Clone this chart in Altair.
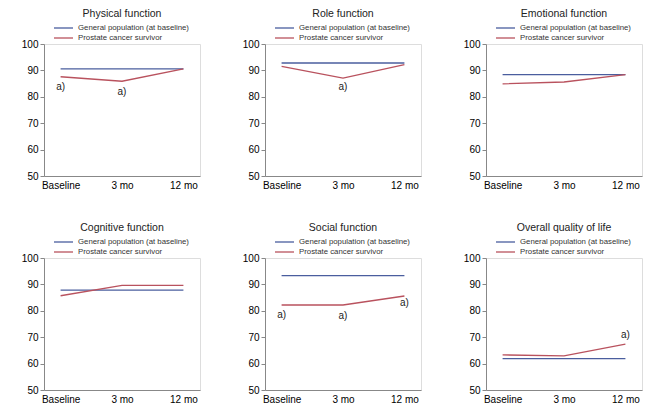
import altair as alt
import pandas as pd

panels = ["Physical function", "Role function", "Emotional function",
          "Cognitive function", "Social function", "Overall quality of life"]
times = ["Baseline", "3 mo", "12 mo"]
groups = ["General population (at baseline)", "Prostate cancer survivor"]

general = [90.6, 92.8, 88.4, 87.8, 93.3, 61.9]
survivor = [
    [87.6, 85.9, 90.6],
    [91.5, 87.1, 92.2],
    [84.9, 85.6, 88.4],
    [85.7, 89.6, 89.6],
    [82.2, 82.2, 85.6],
    [63.3, 62.9, 67.4],
]
# significance markers: (panel index, time, label y value)
ann_panel = [0, 0, 1, 4, 4, 4, 5]
ann_time = ["Baseline", "3 mo", "3 mo", "Baseline", "3 mo", "12 mo", "12 mo"]
ann_value = [83.9, 81.9, 83.7, 78.5, 78.2, 82.9, 70.9]
ann_label = ["a)"] * 7

colors = ["#4a5e9e", "#b9525e"]
FONT = "Liberation Sans Narrow, Liberation Sans, sans-serif"

rows = []
for i, p in enumerate(panels):
    for t in times:
        rows.append({"panel": p, "group": groups[0], "time": t, "value": general[i]})
    for t, v in zip(times, survivor[i]):
        rows.append({"panel": p, "group": groups[1], "time": t, "value": v})
df = pd.DataFrame(rows)
ann = pd.DataFrame({"panel": [panels[i] for i in ann_panel], "time": ann_time,
                    "value": ann_value, "label": ann_label})
leg = pd.DataFrame({"group": groups})

W, H = 156, 132


def legend_layers():
    out = []
    for k, g in enumerate(groups):
        yy = -16 + 10 * k
        src = alt.Chart(leg[leg.group == g])
        out.append(src.mark_rule(color=colors[k], strokeWidth=1.3).encode(
            x=alt.value(10), x2=alt.value(29), y=alt.value(yy)))
        out.append(src.mark_text(align="left", baseline="middle", fontSize=7.8,
                                 font=FONT, color="#333333").encode(
            x=alt.value(34), y=alt.value(yy), text="group:N"))
    return out


X = alt.X("time:N", sort=times, scale=alt.Scale(type="point", padding=0.27),
          axis=alt.Axis(title=None, labelAngle=0, ticks=False, labelPadding=4))
Y = alt.Y("value:Q", scale=alt.Scale(domain=[50, 100]),
          axis=alt.Axis(title=None, values=[50, 60, 70, 80, 90, 100], grid=False,
                        tickSize=4, labelPadding=2, labelOverlap=False))


def panel_chart(p):
    lines = alt.Chart(df[df.panel == p]).mark_line(strokeWidth=1.3).encode(
        x=X, y=Y,
        color=alt.Color("group:N", sort=groups,
                        scale=alt.Scale(domain=groups, range=colors), legend=None),
    )
    layers = [lines]
    a = ann[ann.panel == p]
    if len(a):
        layers.append(alt.Chart(a).mark_text(fontSize=10, font=FONT, color="#222222").encode(
            x=X, y=Y, text="label:N"))
    layers += legend_layers()
    return alt.layer(*layers).properties(
        width=W, height=H,
        title=alt.TitleParams(p, fontSize=10.5, font=FONT, fontWeight="normal",
                              color="#222222", offset=5, anchor="middle"),
    )


charts = [panel_chart(p) for p in panels]
row1 = alt.hconcat(*charts[:3], spacing=40)
row2 = alt.hconcat(*charts[3:], spacing=40)
chart = alt.vconcat(row1, row2, spacing=31).properties(
    padding={"left": 12, "top": 0, "right": 0, "bottom": 0}
).configure_view(
    stroke=None
).configure_axis(
    labelFont=FONT, labelFontSize=10, labelColor="#333333",
    domainColor="#333333", tickColor="#333333", domainWidth=1.2,
).configure(background="white")

chart.save("out.html", embed_options={"renderer": "svg", "actions": False})
